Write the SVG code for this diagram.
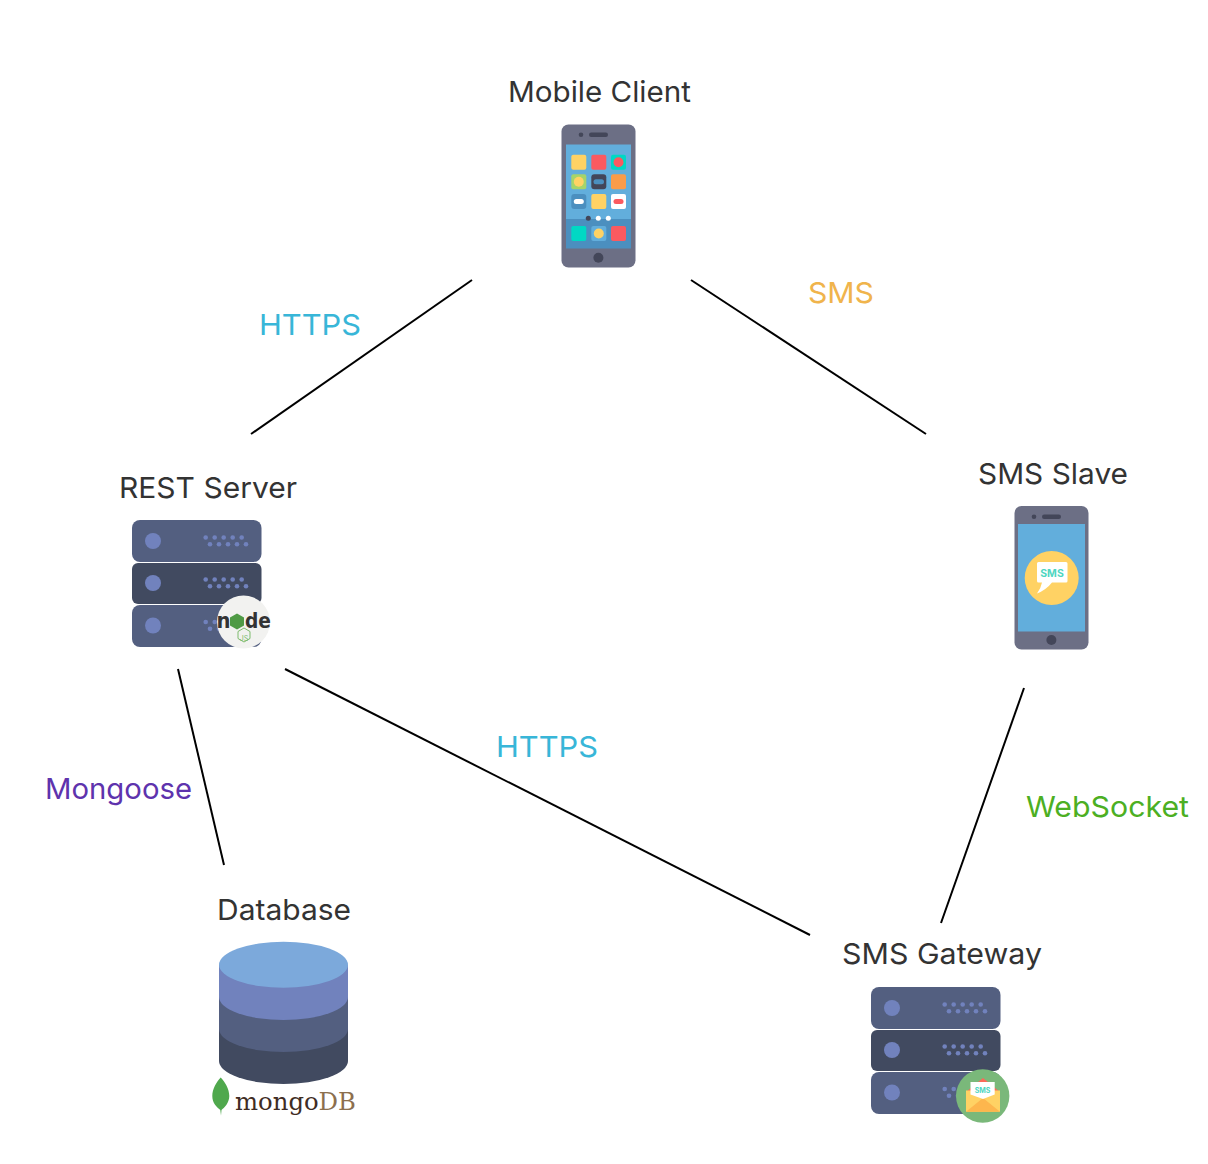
<svg xmlns="http://www.w3.org/2000/svg" width="1208" height="1164" viewBox="0 0 1208 1164">
<style>
text{font-family:Inter,"Open Sans",sans-serif;font-size:29px}
.n{fill:#333}
.h{fill:#38b6d8}
.c{fill:none;stroke:#000;stroke-width:2}
.b{fill:#6c6f85}.d{fill:#434659}
.s1{fill:#535f80}.s2{fill:#414a60}.p{fill:#7182bd}
.y{fill:#ffd264}.r{fill:#fa5a60}.t{fill:#00d8c4}.o{fill:#fb9c4a}.w{fill:#fff}.bl{fill:#4b8fbf}
.lg{font-family:"DejaVu Sans",sans-serif;font-weight:700;fill:#333}
</style>
<defs>
<g id="dots"><circle cx="153" cy="0" r="8" class="p"/><g class="p"><circle cx="205.700" cy="-3.500" r="2.300"/><circle cx="214.700" cy="-3.500" r="2.300"/><circle cx="223.700" cy="-3.500" r="2.300"/><circle cx="232.700" cy="-3.500" r="2.300"/><circle cx="241.700" cy="-3.500" r="2.300"/><circle cx="210" cy="3.200" r="2.300"/><circle cx="219" cy="3.200" r="2.300"/><circle cx="228" cy="3.200" r="2.300"/><circle cx="237" cy="3.200" r="2.300"/><circle cx="246" cy="3.200" r="2.300"/></g></g>
<g id="rack">
<rect x="132" y="520" width="129.500" height="42" rx="8" class="s1"/>
<rect x="132" y="563" width="129.500" height="41" rx="6" class="s2"/>
<rect x="132" y="605" width="129.500" height="42" rx="8" class="s1"/>
<use href="#dots" y="541"/><use href="#dots" y="583"/><use href="#dots" y="625.500"/>
</g>
</defs>
<g id="connectors">
<line class="c" x1="472" y1="280" x2="251" y2="434"/>
<line class="c" x1="691" y1="280" x2="926" y2="434"/>
<line class="c" x1="178" y1="669" x2="224" y2="865"/>
<line class="c" x1="285" y1="669" x2="810" y2="935"/>
<line class="c" x1="1024" y1="688" x2="941" y2="923"/>
</g>
<g id="edge-labels">
<text class="h" x="259" y="335" textLength="102" lengthAdjust="spacingAndGlyphs">HTTPS</text>
<text x="808" y="303" fill="#f0b44c" textLength="66" lengthAdjust="spacingAndGlyphs">SMS</text>
<text class="h" x="496" y="757" textLength="102" lengthAdjust="spacingAndGlyphs">HTTPS</text>
<text x="45" y="799" fill="#5e33ad" textLength="147" lengthAdjust="spacingAndGlyphs">Mongoose</text>
<text x="1026" y="817" fill="#4caf23" textLength="163" lengthAdjust="spacingAndGlyphs">WebSocket</text>
</g>
<g id="mobile-client">
<text class="n" x="508" y="102" textLength="183" lengthAdjust="spacingAndGlyphs">Mobile Client</text>
<rect class="b" x="561.500" y="124.500" width="74" height="143" rx="7"/>
<rect x="566" y="144.500" width="65" height="74.500" fill="#62aedc"/>
<rect class="bl" x="566" y="219" width="65" height="29.500"/>
<circle class="d" cx="581" cy="134.700" r="2.300"/><rect class="d" x="589" y="132.500" width="19" height="4.500" rx="2.200"/><circle class="d" cx="598.400" cy="257.700" r="5"/>
<rect class="y" x="571.300" y="154.700" width="15" height="15" rx="2"/>
<rect class="r" x="591.300" y="154.700" width="15" height="15" rx="2"/>
<rect class="t" x="611" y="154.700" width="15" height="15" rx="2"/><circle class="r" cx="618.500" cy="162.200" r="5"/>
<rect x="571.300" y="174.300" width="15" height="15" rx="2" fill="#a5d46a"/><circle class="y" cx="578.800" cy="181.800" r="5"/>
<rect class="d" x="591.300" y="174.300" width="15" height="15" rx="3"/><rect class="bl" x="593.500" y="179.300" width="10.500" height="5" rx="2.500"/>
<rect class="o" x="611" y="174.300" width="15" height="15" rx="2"/>
<rect class="bl" x="571.300" y="194" width="15" height="15" rx="3"/><rect class="w" x="573.800" y="199" width="10" height="5" rx="2.500"/>
<rect class="y" x="591.300" y="194" width="15" height="15" rx="2"/>
<rect class="w" x="611" y="194" width="15" height="15" rx="2"/><rect class="r" x="613.500" y="199" width="10" height="5" rx="2.500"/>
<circle class="d" cx="588.300" cy="218.300" r="2.500"/><circle class="w" cx="598.300" cy="218.300" r="2.500"/><circle class="w" cx="608.300" cy="218.300" r="2.500"/>
<rect class="t" x="571.300" y="226" width="15" height="15" rx="2"/>
<rect x="591.300" y="226" width="15" height="15" rx="2" fill="#62aedc"/><circle class="y" cx="598.800" cy="233.500" r="5"/>
<rect class="r" x="611" y="226" width="15" height="15" rx="2"/>
</g>
<g id="rest-server">
<text class="n" x="119" y="498" textLength="178" lengthAdjust="spacingAndGlyphs">REST Server</text>
<use href="#rack"/>
<circle cx="243.500" cy="622" r="26.500" fill="#f2f2f0"/>
<text class="lg" x="216.500" y="628" style="font-size:22px" textLength="14" lengthAdjust="spacingAndGlyphs">n</text>
<polygon points="237,613.500 244,617.500 244,625.500 237,629.500 230,625.500 230,617.500" fill="#4f9a45"/>
<text class="lg" x="245" y="628" style="font-size:22px" textLength="26" lengthAdjust="spacingAndGlyphs">de</text>
<polygon points="244,628 250,631.500 250,638.500 244,642 238,638.500 238,631.500" fill="none" stroke="#7dbb6c" stroke-width="1"/>
<text x="244" y="640.500" text-anchor="middle" fill="#7dbb6c" style="font-size:7px">JS</text>
</g>
<g id="sms-slave">
<text class="n" x="978" y="484" textLength="150" lengthAdjust="spacingAndGlyphs">SMS Slave</text>
<rect class="b" x="1014.500" y="506" width="74" height="143.500" rx="7"/>
<rect x="1018" y="524" width="67" height="107.500" fill="#62aedc"/>
<circle class="d" cx="1034" cy="516.700" r="2.300"/><rect class="d" x="1042" y="514.500" width="19" height="4.500" rx="2.200"/><circle class="d" cx="1051.400" cy="640" r="5"/>
<circle class="y" cx="1051.700" cy="578" r="27"/>
<path class="w" d="M1038.500 562H1066a1.500 1.500 0 0 1 1.500 1.500V581a1.500 1.500 0 0 1-1.500 1.500H1052Q1046 590 1037 593.500Q1041 588 1042 582.500H1038.500a1.500 1.500 0 0 1-1.500-1.500V563.500a1.500 1.500 0 0 1 1.500-1.500Z"/>
<text x="1052" y="577" text-anchor="middle" fill="#4fd6c1" font-weight="700" style="font-size:10.500px">SMS</text>
</g>
<g id="database">
<text class="n" x="217" y="920" textLength="134" lengthAdjust="spacingAndGlyphs">Database</text>
<path class="s2" d="M219 1029V1061A64.500 23 0 0 0 348 1061V1029Z"/>
<path class="s1" d="M219 997V1029A64.500 23 0 0 0 348 1029V997Z"/>
<path class="p" d="M219 965V997A64.500 23 0 0 0 348 997V965Z"/>
<ellipse cx="283.500" cy="964.700" rx="64.500" ry="23" fill="#7ca9db"/>
<path d="M220.700 1077.500C225 1082 229.300 1089 229.300 1096C229.300 1103 224 1108 221.500 1110L221 1115.500L220.300 1110C216.500 1107 212.300 1103 212.300 1096C212.300 1089 216.500 1082 220.700 1077.500Z" fill="#4fa84d"/>
<text x="235" y="1110" style="font-family:'DejaVu Serif',serif;font-size:25px" textLength="121" lengthAdjust="spacingAndGlyphs"><tspan fill="#3f2c24">mongo</tspan><tspan fill="#8c6f4e">DB</tspan></text>
</g>
<g id="sms-gateway">
<text class="n" x="842" y="964" textLength="200" lengthAdjust="spacingAndGlyphs">SMS Gateway</text>
<use href="#rack" x="739" y="467"/>
<circle cx="982.700" cy="1096" r="26.700" fill="#7ab87a"/>
<path d="M966 1092L983 1078L1000 1092Z" fill="#fa6a5a"/>
<path class="y" d="M966 1090.500H1000V1111.700H966Z"/>
<path d="M966 1111.700L983 1098L1000 1111.700Z" fill="#fdb64d"/>
<path class="w" d="M970.500 1082H994.700V1094.500L983 1099L970.500 1094.500Z"/>
<text x="982.600" y="1093" text-anchor="middle" fill="#4fd6c1" font-weight="700" style="font-size:7px">SMS</text>
</g>
</svg>
